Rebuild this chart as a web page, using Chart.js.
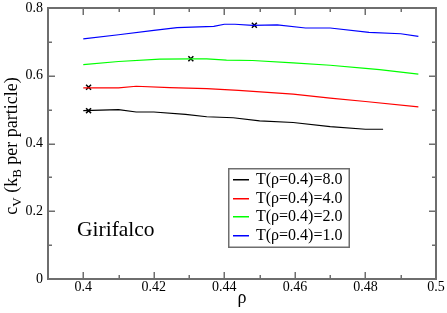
<!DOCTYPE html>
<html>
<head>
<meta charset="UTF-8">
<title>cv vs rho</title>
<script src="https://cdn.jsdelivr.net/npm/chart.js"></script>
<style>
  html, body { margin: 0; padding: 0; background: #fff; }
  #wrap { width: 447px; height: 313px; position: relative; }
</style>
</head>
<body>
<div id="wrap"><canvas id="cv"></canvas></div>
<script>
const rhoBlack = [0.40, 0.41, 0.415, 0.42, 0.429, 0.435, 0.4425, 0.45, 0.4595, 0.47, 0.48, 0.485];
const cvBlack  = [0.497, 0.500, 0.493, 0.493, 0.486, 0.479, 0.476, 0.467, 0.462, 0.450, 0.442, 0.442];

const rhoRed = [0.40, 0.41, 0.415, 0.4245, 0.435, 0.444, 0.4595, 0.47, 0.48, 0.495];
const cvRed  = [0.564, 0.564, 0.569, 0.565, 0.562, 0.557, 0.546, 0.534, 0.524, 0.508];

const rhoGreen = [0.40, 0.41, 0.4217, 0.4307, 0.435, 0.4406, 0.448, 0.4595, 0.47, 0.48, 0.484, 0.495];
const cvGreen  = [0.633, 0.642, 0.649, 0.650, 0.650, 0.646, 0.645, 0.638, 0.631, 0.622, 0.618, 0.605];

const rhoBlue = [0.40, 0.41, 0.42, 0.4266, 0.437, 0.44, 0.443, 0.448, 0.455, 0.463, 0.47, 0.481, 0.49, 0.495];
const cvBlue  = [0.709, 0.721, 0.734, 0.742, 0.746, 0.752, 0.752, 0.749, 0.750, 0.741, 0.741, 0.728, 0.724, 0.716];

// the x marks
const rhoMark = [0.4015, 0.4015, 0.4305, 0.4485];
const cvMark  = [0.497, 0.566, 0.650, 0.749];

const legendLabels = ['T(\u03c1=0.4)=8.0', 'T(\u03c1=0.4)=4.0', 'T(\u03c1=0.4)=2.0', 'T(\u03c1=0.4)=1.0'];
const lineColors = ['#000000', '#ff0000', '#00ff00', '#0000ff'];

const pts = (xs, ys) => xs.map((x, i) => ({ x: x, y: ys[i] }));
const serif = '"Liberation Serif", "DejaVu Serif", serif';
const axisGray = '#6e6e6e';

// frame, inward ticks, titles, annotation and legend
const decor = {
  id: 'decor',
  afterDraw(chart) {
    const ctx = chart.ctx;
    const a = chart.chartArea;
    const xs = chart.scales.x, ys = chart.scales.y;
    ctx.save();
    ctx.fillStyle = axisGray;
    // frame as filled bars, 2px
    ctx.fillRect(a.left - 1, a.top - 1, a.right - a.left + 2, 2);
    ctx.fillRect(a.left - 1, a.bottom - 1, a.right - a.left + 2, 2);
    ctx.fillRect(a.left - 1, a.top - 1, 2, a.bottom - a.top + 2);
    ctx.fillRect(a.right - 1, a.top - 1, 2, a.bottom - a.top + 2);

    xs.ticks.forEach(t => {
      const px = Math.round(xs.getPixelForValue(t.value));
      const len = Math.round(t.value * 100) % 2 === 0 ? 7 : 4;
      ctx.fillRect(px - 0.5, a.bottom - len, 1.5, len);
      ctx.fillRect(px - 0.5, a.top, 1.5, len);
    });
    ys.ticks.forEach(t => {
      const py = Math.round(ys.getPixelForValue(t.value));
      const len = Math.round(t.value * 10) % 2 === 0 ? 7 : 4;
      ctx.fillRect(a.left, py - 0.5, len, 1.5);
      ctx.fillRect(a.right - len, py - 0.5, len, 1.5);
    });

    // x title
    ctx.fillStyle = '#000';
    ctx.font = '18px ' + serif;
    ctx.textAlign = 'center';
    ctx.textBaseline = 'alphabetic';
    ctx.fillText('\u03c1', (a.left + a.right) / 2, 303);

    // y title with subscripts
    ctx.save();
    ctx.translate(17, 146);
    ctx.rotate(-Math.PI / 2);
    const parts = [
      ['c', 18, 0], ['V', 13, 4], [' (k', 18, 0], ['B', 13, 4], [' per particle)', 18, 0]
    ];
    let total = 0;
    parts.forEach(p => { ctx.font = p[1] + 'px ' + serif; total += ctx.measureText(p[0]).width; });
    let cx = -total / 2;
    ctx.textAlign = 'left';
    parts.forEach(p => {
      ctx.font = p[1] + 'px ' + serif;
      ctx.fillText(p[0], cx, p[2]);
      cx += ctx.measureText(p[0]).width;
    });
    ctx.restore();

    // annotation
    ctx.font = '21.5px ' + serif;
    ctx.textAlign = 'left';
    ctx.fillText('Girifalco', 77, 236);

    // legend box
    ctx.fillStyle = axisGray;
    ctx.fillRect(228, 168, 122, 1.5);
    ctx.fillRect(228, 246.5, 122, 1.5);
    ctx.fillRect(228, 168, 1.5, 80);
    ctx.fillRect(348.5, 168, 1.5, 80);
    ctx.font = '16px ' + serif;
    ctx.textBaseline = 'middle';
    legendLabels.forEach((lab, i) => {
      const y = Math.round(179 + i * 18.7);
      ctx.fillStyle = lineColors[i];
      ctx.fillRect(233, y, 16, 1.5);
      ctx.fillStyle = '#000';
      ctx.fillText(lab, 256, y + 1);
    });
    ctx.restore();
  }
};

const lineSet = (xs, ys, color) => ({
  data: pts(xs, ys),
  borderColor: color,
  borderWidth: 1.2,
  pointRadius: 0,
  tension: 0,
  fill: false
});

new Chart(document.getElementById('cv'), {
  type: 'line',
  data: {
    datasets: [
      lineSet(rhoBlack, cvBlack, lineColors[0]),
      lineSet(rhoRed, cvRed, lineColors[1]),
      lineSet(rhoGreen, cvGreen, lineColors[2]),
      lineSet(rhoBlue, cvBlue, lineColors[3]),
      {
        type: 'scatter',
        data: pts(rhoMark, cvMark),
        showLine: false,
        pointStyle: 'crossRot',
        pointRadius: 3.5,
        borderColor: '#000',
        borderWidth: 1.5
      }
    ]
  },
  options: {
    responsive: true,
    maintainAspectRatio: false,
    animation: false,
    layout: { padding: { top: 8, right: 11, left: 0, bottom: 0 } },
    plugins: { legend: { display: false }, tooltip: { enabled: false } },
    scales: {
      x: {
        type: 'linear',
        min: 0.39, max: 0.5,
        afterFit: s => { s.height = 34; },
        border: { display: false },
        grid: { display: false, drawTicks: false },
        ticks: {
          stepSize: 0.01,
          autoSkip: false,
          maxRotation: 0,
          padding: 1,
          color: '#000',
          font: { family: serif, size: 14, lineHeight: 1 },
          callback: v => (Math.round(v * 100) % 2 === 0 ? String(Math.round(v * 100) / 100) : '')
        }
      },
      y: {
        min: 0, max: 0.8,
        afterFit: s => { s.width = 48; },
        border: { display: false },
        grid: { display: false, drawTicks: false },
        ticks: {
          stepSize: 0.1,
          padding: 5,
          color: '#000',
          font: { family: serif, size: 14, lineHeight: 0.4 },
          callback: v => (Math.round(v * 10) % 2 === 0 ? String(Math.round(v * 10) / 10) : '')
        }
      }
    }
  },
  plugins: [decor]
});
</script>
</body>
</html>
